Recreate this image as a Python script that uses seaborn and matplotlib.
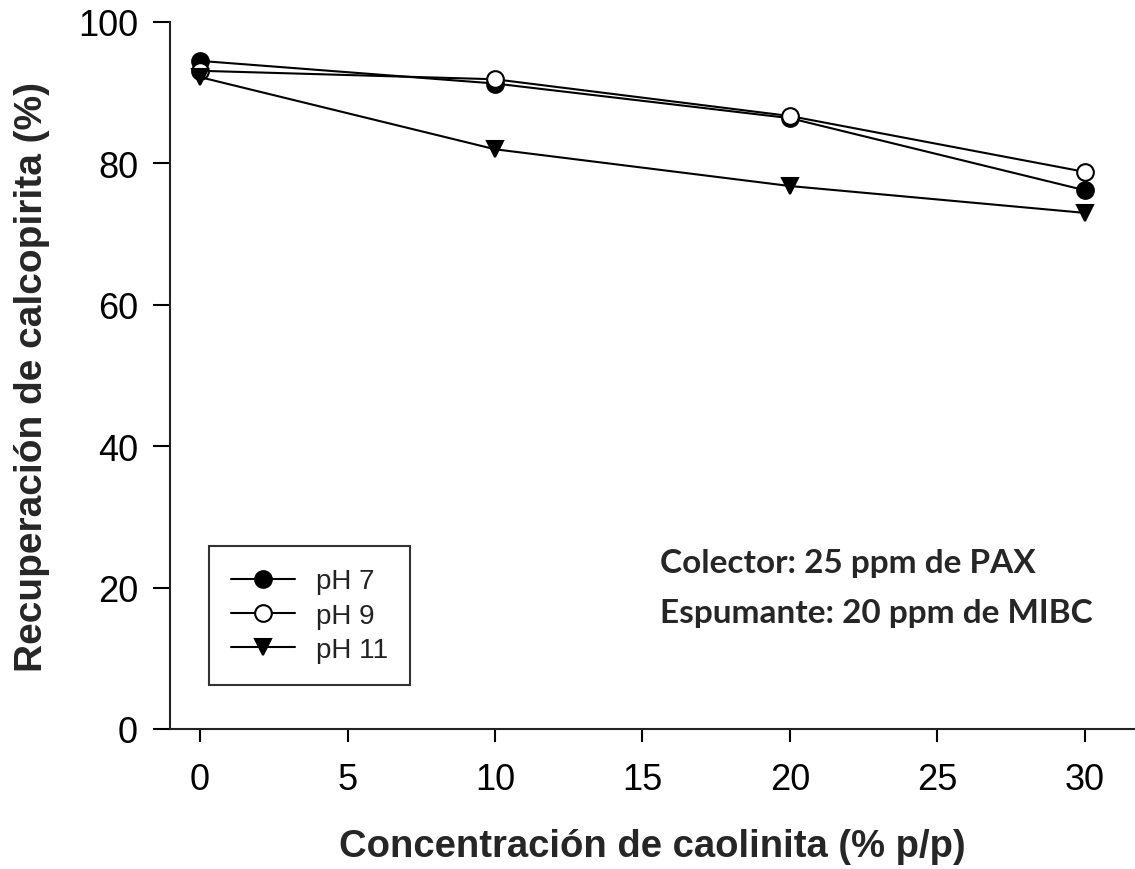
import matplotlib
matplotlib.use("Agg")
import matplotlib.pyplot as plt
import seaborn as sns
import pandas as pd

conc = [0, 10, 20, 30]
ph7 = [94.5, 91.3, 86.4, 76.2]
ph9 = [93.1, 91.9, 86.7, 78.8]
ph11 = [92.2, 82.0, 76.8, 73.0]
labels = ["pH 7", "pH 9", "pH 11"]
xticks = [0, 5, 10, 15, 20, 25, 30]
yticks = [0, 20, 40, 60, 80, 100]
note1 = "Colector: 25 ppm de PAX"
note2 = "Espumante: 20 ppm de MIBC"

sns.set_style("ticks")
plt.rcParams['font.family'] = ['Liberation Sans', 'DejaVu Sans']

fig = plt.figure(figsize=(11.35, 8.7), dpi=100)
ax = fig.add_axes([170/1135, 1-730/870, 965/1135, 707/870])

styles = [
    dict(marker='o', markerfacecolor='black'),
    dict(marker='o', markerfacecolor='white'),
    dict(marker='v', markerfacecolor='black'),
]
for vals, lab, st in zip([ph7, ph9, ph11], labels, styles):
    df = pd.DataFrame({"x": conc, "y": vals})
    sns.lineplot(data=df, x="x", y="y", ax=ax, color='black', linewidth=1.5,
                 markersize=12, markeredgecolor='black', markeredgewidth=1.5,
                 label=lab, **st)

ax.set_xlim(-1.02, 31.7)
ax.set_ylim(0, 100)
ax.set_xticks(xticks)
ax.set_yticks(yticks)
ax.tick_params(direction='out', length=9, width=1.5, labelsize=26, colors='black')
ax.tick_params(axis='x', pad=15)
ax.tick_params(axis='y', length=12, pad=11)
for s in ['top', 'right']:
    ax.spines[s].set_visible(False)
for s in ['left', 'bottom']:
    ax.spines[s].set_linewidth(1.5)
    ax.spines[s].set_color('#222222')

ax.set_xlabel("Concentración de caolinita (% p/p)", fontsize=27.5, fontweight='bold', labelpad=22)
ax.set_ylabel("Recuperación de calcopirita (%)", fontsize=28, fontweight='bold', labelpad=20)

leg = ax.legend(loc='lower left', bbox_to_anchor=(0.04, 0.062), fontsize=20,
                frameon=True, fancybox=False, edgecolor='black', handlelength=2.3,
                borderpad=0.8, labelspacing=0.3, handletextpad=0.75, borderaxespad=0)
leg.get_frame().set_linewidth(1.5)
for t in leg.get_texts():
    t.set_color('#222222')

ax.text(0.508, 0.222, note1, transform=ax.transAxes, fontsize=24, fontweight='bold',
        family=['Lato', 'DejaVu Sans'], va='baseline', ha='left')
ax.text(0.508, 0.152, note2, transform=ax.transAxes, fontsize=24, fontweight='bold',
        family=['Lato', 'DejaVu Sans'], va='baseline', ha='left')

fig.savefig("out.png", dpi=100)
